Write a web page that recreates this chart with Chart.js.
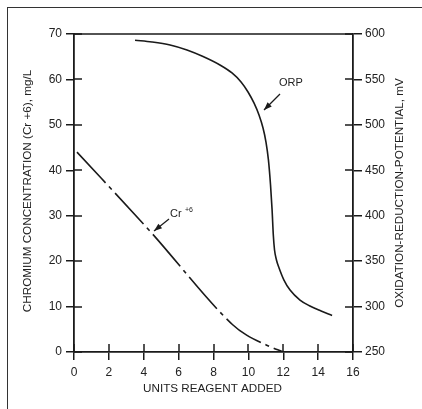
<!DOCTYPE html>
<html>
<head>
<meta charset="utf-8">
<script src="https://cdn.jsdelivr.net/npm/chart.js@4/dist/chart.umd.min.js"></script>
<style>
html,body{margin:0;padding:0;background:#fff;overflow:hidden;}
#wrap{position:relative;width:422px;height:409px;overflow:hidden;}
#frame{position:absolute;left:7px;top:7px;width:600px;height:600px;border-left:1.5px solid #333;border-top:1.5px solid #333;box-sizing:border-box;}
canvas{position:absolute;left:0;top:0;}
</style>
</head>
<body>
<div id="wrap"><div id="frame"></div><canvas id="c" width="422" height="409"></canvas></div>
<script>
// ---- data ----
const orpX = [3.50, 4.47, 5.51, 6.48, 7.40, 8.37, 9.06, 9.58, 9.98, 10.32, 10.61, 10.84, 11.01, 11.15, 11.27, 11.36, 11.43, 11.50, 11.61, 11.76, 12.04, 12.39, 12.96, 13.53, 14.17, 14.80];
const orpY = [593.1, 591.2, 587.9, 582.4, 575.2, 565.9, 557.1, 547.2, 536.2, 524.1, 510.8, 496.5, 481.1, 461.4, 433.9, 406.4, 378.8, 362.3, 351.3, 342.5, 329.2, 318.2, 307.2, 300.6, 295.1, 290.2];
const crX = [0.17, 4.36, 9.1, 9.9, 11.05, 12.0];
const crY = [44, 26.6, 6.0, 3.7, 1.5, 0];
const xTitle = 'UNITS REAGENT ADDED';
const yLeftTitle = 'CHROMIUM CONCENTRATION (Cr +6), mg/L';
const yRightTitle = 'OXIDATION-REDUCTION-POTENTIAL, mV';
const orpLabel = 'ORP';
const crLabel = 'Cr';
const crSup = '+6';

const FONT = "'Liberation Sans', Arial, sans-serif";
const INK = '#1a1a1a';

function pts(xs, ys){ return xs.map((x,i)=>({x:x, y:ys[i]})); }

function arrow(ctx, x1, y1, x2, y2){
  ctx.beginPath(); ctx.moveTo(x1,y1); ctx.lineTo(x2,y2); ctx.stroke();
  const a = Math.atan2(y2-y1, x2-x1), L = 8, W = 3;
  ctx.beginPath();
  ctx.moveTo(x2,y2);
  ctx.lineTo(x2 - L*Math.cos(a) + W*Math.sin(a), y2 - L*Math.sin(a) - W*Math.cos(a));
  ctx.lineTo(x2 - L*Math.cos(a) - W*Math.sin(a), y2 - L*Math.sin(a) + W*Math.cos(a));
  ctx.closePath(); ctx.fill();
}

const decor = {
  id: 'decor',
  afterDraw(chart){
    const ctx = chart.ctx, ca = chart.chartArea;
    const sx = chart.scales.x, sl = chart.scales.y, sr = chart.scales.y2;
    ctx.save();
    // top border of plot
    ctx.strokeStyle = INK; ctx.lineWidth = 1.6;
    ctx.beginPath(); ctx.moveTo(ca.left, ca.top); ctx.lineTo(ca.right, ca.top); ctx.stroke();
    // inner tick portions
    ctx.lineWidth = 1.5;
    sl.ticks.forEach(t=>{ const y = Math.round(sl.getPixelForValue(t.value)); ctx.beginPath(); ctx.moveTo(ca.left, y); ctx.lineTo(ca.left+8, y); ctx.stroke(); });
    sr.ticks.forEach(t=>{ const y = Math.round(sr.getPixelForValue(t.value)); ctx.beginPath(); ctx.moveTo(ca.right-8, y); ctx.lineTo(ca.right, y); ctx.stroke(); });
    sx.ticks.forEach(t=>{ const x = Math.round(sx.getPixelForValue(t.value)); ctx.beginPath(); ctx.moveTo(x, ca.bottom-8); ctx.lineTo(x, ca.bottom); ctx.stroke(); });
    // titles
    ctx.fillStyle = '#222';
    ctx.textAlign = 'center'; ctx.textBaseline = 'middle';
    ctx.font = '11.7px ' + FONT;
    ctx.fillText(xTitle, (ca.left+ca.right)/2 - 1, 389);
    ctx.save(); ctx.translate(28, 191); ctx.rotate(-Math.PI/2); ctx.fillText(yLeftTitle, 0, 0); ctx.restore();
    ctx.save(); ctx.translate(400, 193); ctx.rotate(-Math.PI/2); ctx.fillText(yRightTitle, 0, 0); ctx.restore();
    // annotations
    ctx.font = '11px ' + FONT;
    ctx.textAlign = 'left';
    ctx.fillText(orpLabel, 279, 83);
    ctx.fillText(crLabel, 170, 214);
    ctx.font = '7px ' + FONT;
    ctx.fillText(crSup, 185, 210);
    ctx.strokeStyle = INK; ctx.fillStyle = INK; ctx.lineWidth = 1.3;
    arrow(ctx, 280, 94, 264, 110);
    arrow(ctx, 169, 219, 154, 231);
    ctx.restore();
  }
};

const tickFont = {family: FONT, size: 12};
new Chart(document.getElementById('c'), {
  type: 'line',
  data: {
    datasets: [
      {data: pts(orpX, orpY), yAxisID: 'y2', borderColor: INK, borderWidth: 1.6, pointRadius: 0, cubicInterpolationMode: 'monotone', fill: false},
      {data: pts(crX, crY), yAxisID: 'y', borderColor: INK, borderWidth: 1.6, pointRadius: 0, cubicInterpolationMode: 'monotone', borderDash: [42,5,4,5], fill: false}
    ]
  },
  options: {
    responsive: false, animation: false,
    layout: {padding: {top: 34, left: 0, right: 0, bottom: 0}},
    plugins: {legend: {display: false}, tooltip: {enabled: false}},
    scales: {
      x: {type: 'linear', min: 0, max: 16,
        ticks: {stepSize: 2, color: '#222', font: tickFont, padding: 5, maxRotation: 0},
        grid: {drawOnChartArea: false, tickLength: 8, color: INK, lineWidth: 1.5},
        border: {color: INK, width: 1.8},
        afterFit(s){ s.height = 57; }},
      y: {type: 'linear', position: 'left', min: 0, max: 70,
        ticks: {stepSize: 10, color: '#222', font: tickFont, padding: 4},
        grid: {drawOnChartArea: false, tickLength: 8, color: INK, lineWidth: 1.5},
        border: {color: INK, width: 1.8},
        afterFit(s){ s.width = 74; }},
      y2: {type: 'linear', position: 'right', min: 250, max: 600,
        ticks: {stepSize: 50, color: '#222', font: tickFont, padding: 3},
        grid: {drawOnChartArea: false, tickLength: 9, color: INK, lineWidth: 1.5},
        border: {color: INK, width: 1.8},
        afterFit(s){ s.width = 69; }}
    }
  },
  plugins: [decor]
});
</script>
</body>
</html>
